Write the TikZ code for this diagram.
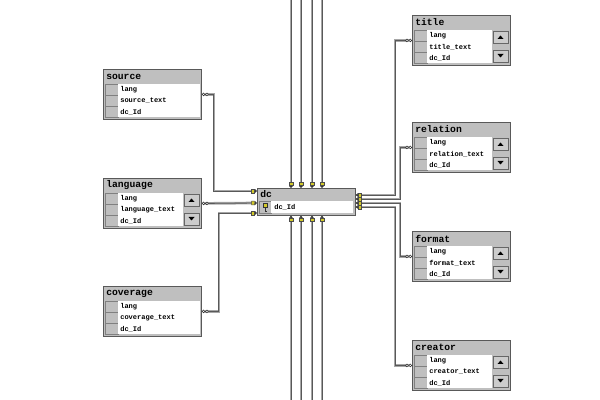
\documentclass[tikz,border=0pt]{standalone}
\usepackage{fontspec}
\setmonofont{Liberation Mono}
\usetikzlibrary{arrows.meta,calc}

\begin{document}
\begin{tikzpicture}[x=0.025cm,y=-0.025cm,
    tbl/.style={draw=black!65,fill=black!25,line width=0.6pt,minimum width=2.45cm,minimum height=1.25cm,inner sep=0pt,anchor=north west},
    tname/.style={font=\ttfamily\bfseries\fontsize{6.9}{7}\selectfont,anchor=west,inner sep=0pt},
    field/.style={font=\ttfamily\bfseries\fontsize{5}{6}\selectfont,anchor=west,inner sep=0pt},
    cell/.style={draw=black!50,fill=black!25,line width=0.4pt},
    btn/.style={draw=black!60,fill=black!20,line width=0.4pt},
    rel/.style={draw=black!35,double=black!65,double distance=0.6pt,line width=0.65pt},
    fk/.style={rel,{Circle[length=2.4pt,width=2.4pt,fill=white,color=black!80,line width=0.4pt]Circle[length=2.4pt,width=2.4pt,fill=white,color=black!80,line width=0.4pt]}-{Square[length=2.4pt,width=3pt,fill=yellow!80!black,color=black!70,line width=0.3pt]Stealth[length=1.6pt,width=2.8pt,color=black!80]}},
    pk/.style={rel,-{Square[length=2.4pt,width=3pt,fill=yellow!80!black,color=black!70,line width=0.3pt]Stealth[length=1.6pt,width=2.8pt,color=black!80]}}]
    \fill[white] (0,0) rectangle (600,400);
    \useasboundingbox (0,0) rectangle (600,400);

    \foreach \t/\x/\y/\w in {source/103/69/97,language/103/178/80,coverage/103/286/97,title/412/15/80,relation/412/122/80,format/412/231/80,creator/412/340/80}{
        \node[tbl] (\t) at (\x,\y) {};
        \node[tname] (\t-name) at ($(\t.north west)+(3,7.5)$) {\t};
        \foreach \k in {0,1,2}
            \draw[cell] ($(\t.north west)+(2,15+11*\k)$) rectangle ++(13,11);
        \fill[white] ($(\t.north west)+(15,15)$) rectangle ($(\t.north west)+(\w,48)$);
        \ifnum\w<97
            \draw[btn] ($(\t.north west)+(81,16)$) rectangle ++(15,12);
            \draw[btn] ($(\t.north west)+(81,35)$) rectangle ++(15,12);
            \fill ($(\t.north west)+(85.5,24)$) -- ++(6,0) -- ++(-3,-3.5) -- cycle;
            \fill ($(\t.north west)+(85.5,39)$) -- ++(6,0) -- ++(-3,3.5) -- cycle;
        \fi
        \node[field] (\t-f1) at ($(\t.north west)+(17,20.5)$) {lang};
        \node[field] (\t-f2) at ($(\t.north west)+(17,32)$) {\t\_text};
        \node[field] (\t-f3) at ($(\t.north west)+(17,43)$) {dc\_Id};
    }

    \node[tbl,minimum height=0.675cm] (dc) at (257,188) {};
    \node[tname] (dc-name) at ($(dc.north west)+(3,6.5)$) {dc};
    \draw[cell] ($(dc.north west)+(2,13)$) rectangle ++(12,12);
    \fill[white] ($(dc.north west)+(14,13)$) rectangle ($(dc.north west)+(96,25)$);
    \filldraw[fill=yellow!80!black,draw=black!80,line width=0.3pt] ($(dc.north west)+(6.5,15.5)$) rectangle ++(4,4);
    \draw[black!80,line width=0.6pt] ($(dc.north west)+(8.5,19.5)$) -- ++(0,3.5) -- ++(1.5,0);
    \node[field] (dc-f1) at ($(dc.north west)+(17,19.5)$) {dc\_Id};

    \foreach \i/\dy in {1/3,2/15,3/25}
        \coordinate (dcw\i) at ($(dc.north west)+(0,\dy)$);
    \foreach \i/\dy in {1/7,2/11,3/15,4/19}
        \coordinate (dce\i) at ($(dc.north east)+(0,\dy)$);
    \foreach \i/\dx in {1/34,2/44,3/55,4/65}{
        \coordinate (top\i) at (257+\dx,0);
        \coordinate (bot\i) at (257+\dx,400);
        \draw[pk] (top\i) -- ($(dc.north west)+(\dx,0)$);
        \draw[pk] (bot\i) -- ($(dc.south west)+(\dx,0)$);
    }

    \draw[fk] (source.east) -- ++(12,0) |- (dcw1);
    \draw[fk] (language.east) -- (dcw2);
    \draw[fk] (coverage.east) -- ++(17,0) |- (dcw3);
    \draw[fk] (title.west) -- ++(-17,0) |- (dce1);
    \draw[fk] (relation.west) -- ++(-12,0) |- (dce2);
    \draw[fk] (format.west) -- ++(-12,0) |- (dce3);
    \draw[fk] (creator.west) -- ++(-17,0) |- (dce4);
\end{tikzpicture}
\end{document}
